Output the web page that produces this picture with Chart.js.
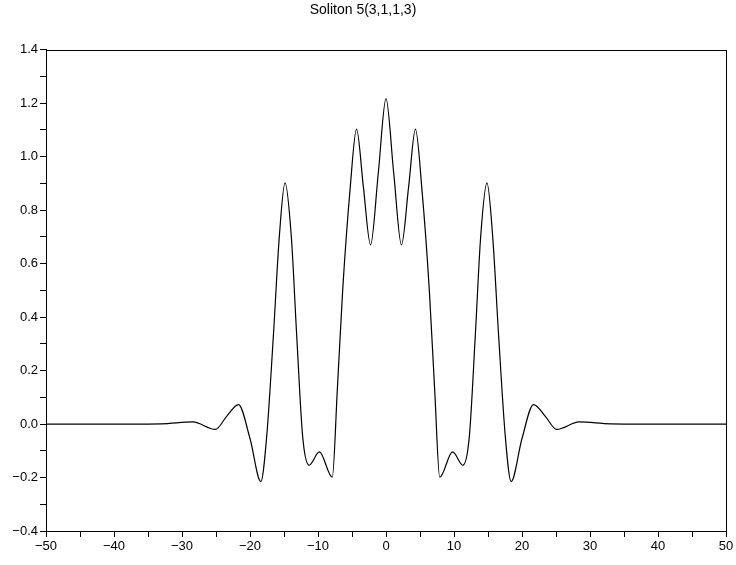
<!DOCTYPE html>
<html>
<head>
<meta charset="utf-8">
<script src="https://cdn.jsdelivr.net/npm/chart.js@4/dist/chart.umd.min.js"></script>
<style>
  html, body { margin: 0; padding: 0; background: #fff; }
  #wrap { width: 736px; height: 565px; }
</style>
</head>
<body>
<div id="wrap"><canvas id="chart" width="736" height="565"></canvas></div>
<script>
// values
const xs = [-50, -40, -33, -28.4, -25.1, -23.4, -21.7, -20.0, -18.4, -17.55, -16.57, -15.69, -14.85,
            -13.92, -13.13, -12.25, -11.3, -9.8, -7.9, -7.16, -6.37, -5.29, -4.33, -3.33, -2.27, -1.13, 0,
            1.13, 2.27, 3.33, 4.33, 5.29, 6.37, 7.16, 7.9, 9.8, 11.3, 12.25, 13.13, 13.92,
            14.85, 15.69, 16.57, 17.55, 18.4, 20.0, 21.7, 23.4, 25.1, 28.4, 33, 40, 50];
const ys = [0, 0, 0.001, 0.008, -0.02, 0.03, 0.073, -0.054, -0.215, -0.048, 0.327, 0.701, 0.902,
            0.70, 0.33, -0.048, -0.154, -0.104, -0.199, 0.127, 0.501, 0.876, 1.103, 0.888, 0.670, 0.94, 1.217,
            0.94, 0.670, 0.888, 1.103, 0.876, 0.501, 0.127, -0.199, -0.104, -0.154, -0.048, 0.33, 0.70,
            0.902, 0.701, 0.327, -0.048, -0.215, -0.054, 0.073, 0.03, -0.02, 0.008, 0.001, 0, 0];

const xMajor = [-50, -40, -30, -20, -10, 0, 10, 20, 30, 40, 50];
const xMinor = [-45, -35, -25, -15, -5, 5, 15, 25, 35, 45];
const yMajor = [-0.4, -0.2, 0.0, 0.2, 0.4, 0.6, 0.8, 1.0, 1.2, 1.4];
const yMinor = [-0.3, -0.1, 0.1, 0.3, 0.5, 0.7, 0.9, 1.1, 1.3];

const points = xs.map((x, i) => ({ x: x, y: ys[i] }));

const fontFam = '"Liberation Sans", Arial, Helvetica, sans-serif';

function minus(s) { return s.replace('-', '\u2212'); }

function setTicks(major, minor) {
    return (scale) => {
        const all = major.map(v => ({ value: v, major: true }))
            .concat(minor.map(v => ({ value: v, major: false })));
        all.sort((a, b) => a.value - b.value);
        scale.ticks = all;
    };
}

const framePlugin = {
    id: 'frame',
    afterDraw(chart) {
        const a = chart.chartArea, ctx = chart.ctx;
        ctx.save();
        ctx.strokeStyle = '#000';
        ctx.lineWidth = 1;
        ctx.strokeRect(Math.round(a.left) + 0.5, Math.round(a.top) + 0.5,
                       Math.round(a.right - a.left), Math.round(a.bottom - a.top));
        ctx.restore();
    }
};

new Chart(document.getElementById('chart').getContext('2d'), {
    type: 'line',
    data: {
        datasets: [{
            data: points,
            borderColor: '#000',
            borderWidth: 1.2,
            pointRadius: 0,
            fill: false,
            cubicInterpolationMode: 'monotone'
        }]
    },
    options: {
        responsive: false,
        animation: false,
        events: [],
        layout: { padding: { left: 0, right: 10, top: 0, bottom: 0 } },
        plugins: {
            legend: { display: false },
            tooltip: { enabled: false },
            title: {
                display: true,
                text: 'Soliton 5(3,1,1,3)',
                color: '#000',
                font: { family: fontFam, size: 14, weight: 'normal' },
                padding: { top: 2, bottom: 31 }
            }
        },
        scales: {
            x: {
                type: 'linear',
                min: -50, max: 50,
                afterBuildTicks: setTicks(xMajor, xMinor),
                afterFit(scale) { scale.height = 34; },
                border: { display: true, color: '#000', width: 1 },
                grid: { drawOnChartArea: false, drawTicks: true, tickLength: 6, color: '#000' },
                ticks: {
                    color: '#000',
                    padding: 2,
                    maxRotation: 0,
                    autoSkip: false,
                    font: { family: fontFam, size: 13 },
                    callback(v) { return xMajor.includes(v) ? minus(String(v)) : ''; }
                }
            },
            y: {
                type: 'linear',
                min: -0.4, max: 1.4,
                afterBuildTicks: setTicks(yMajor, yMinor),
                afterFit(scale) { scale.width = 46; },
                border: { display: true, color: '#000', width: 1 },
                grid: { drawOnChartArea: false, drawTicks: true, tickLength: 6, color: '#000' },
                ticks: {
                    color: '#000',
                    padding: 2,
                    autoSkip: false,
                    font: { family: fontFam, size: 13 },
                    callback(v) {
                        return yMajor.some(m => Math.abs(m - v) < 1e-9) ? minus(v.toFixed(1)) : '';
                    }
                }
            }
        }
    },
    plugins: [framePlugin]
});
</script>
</body>
</html>
